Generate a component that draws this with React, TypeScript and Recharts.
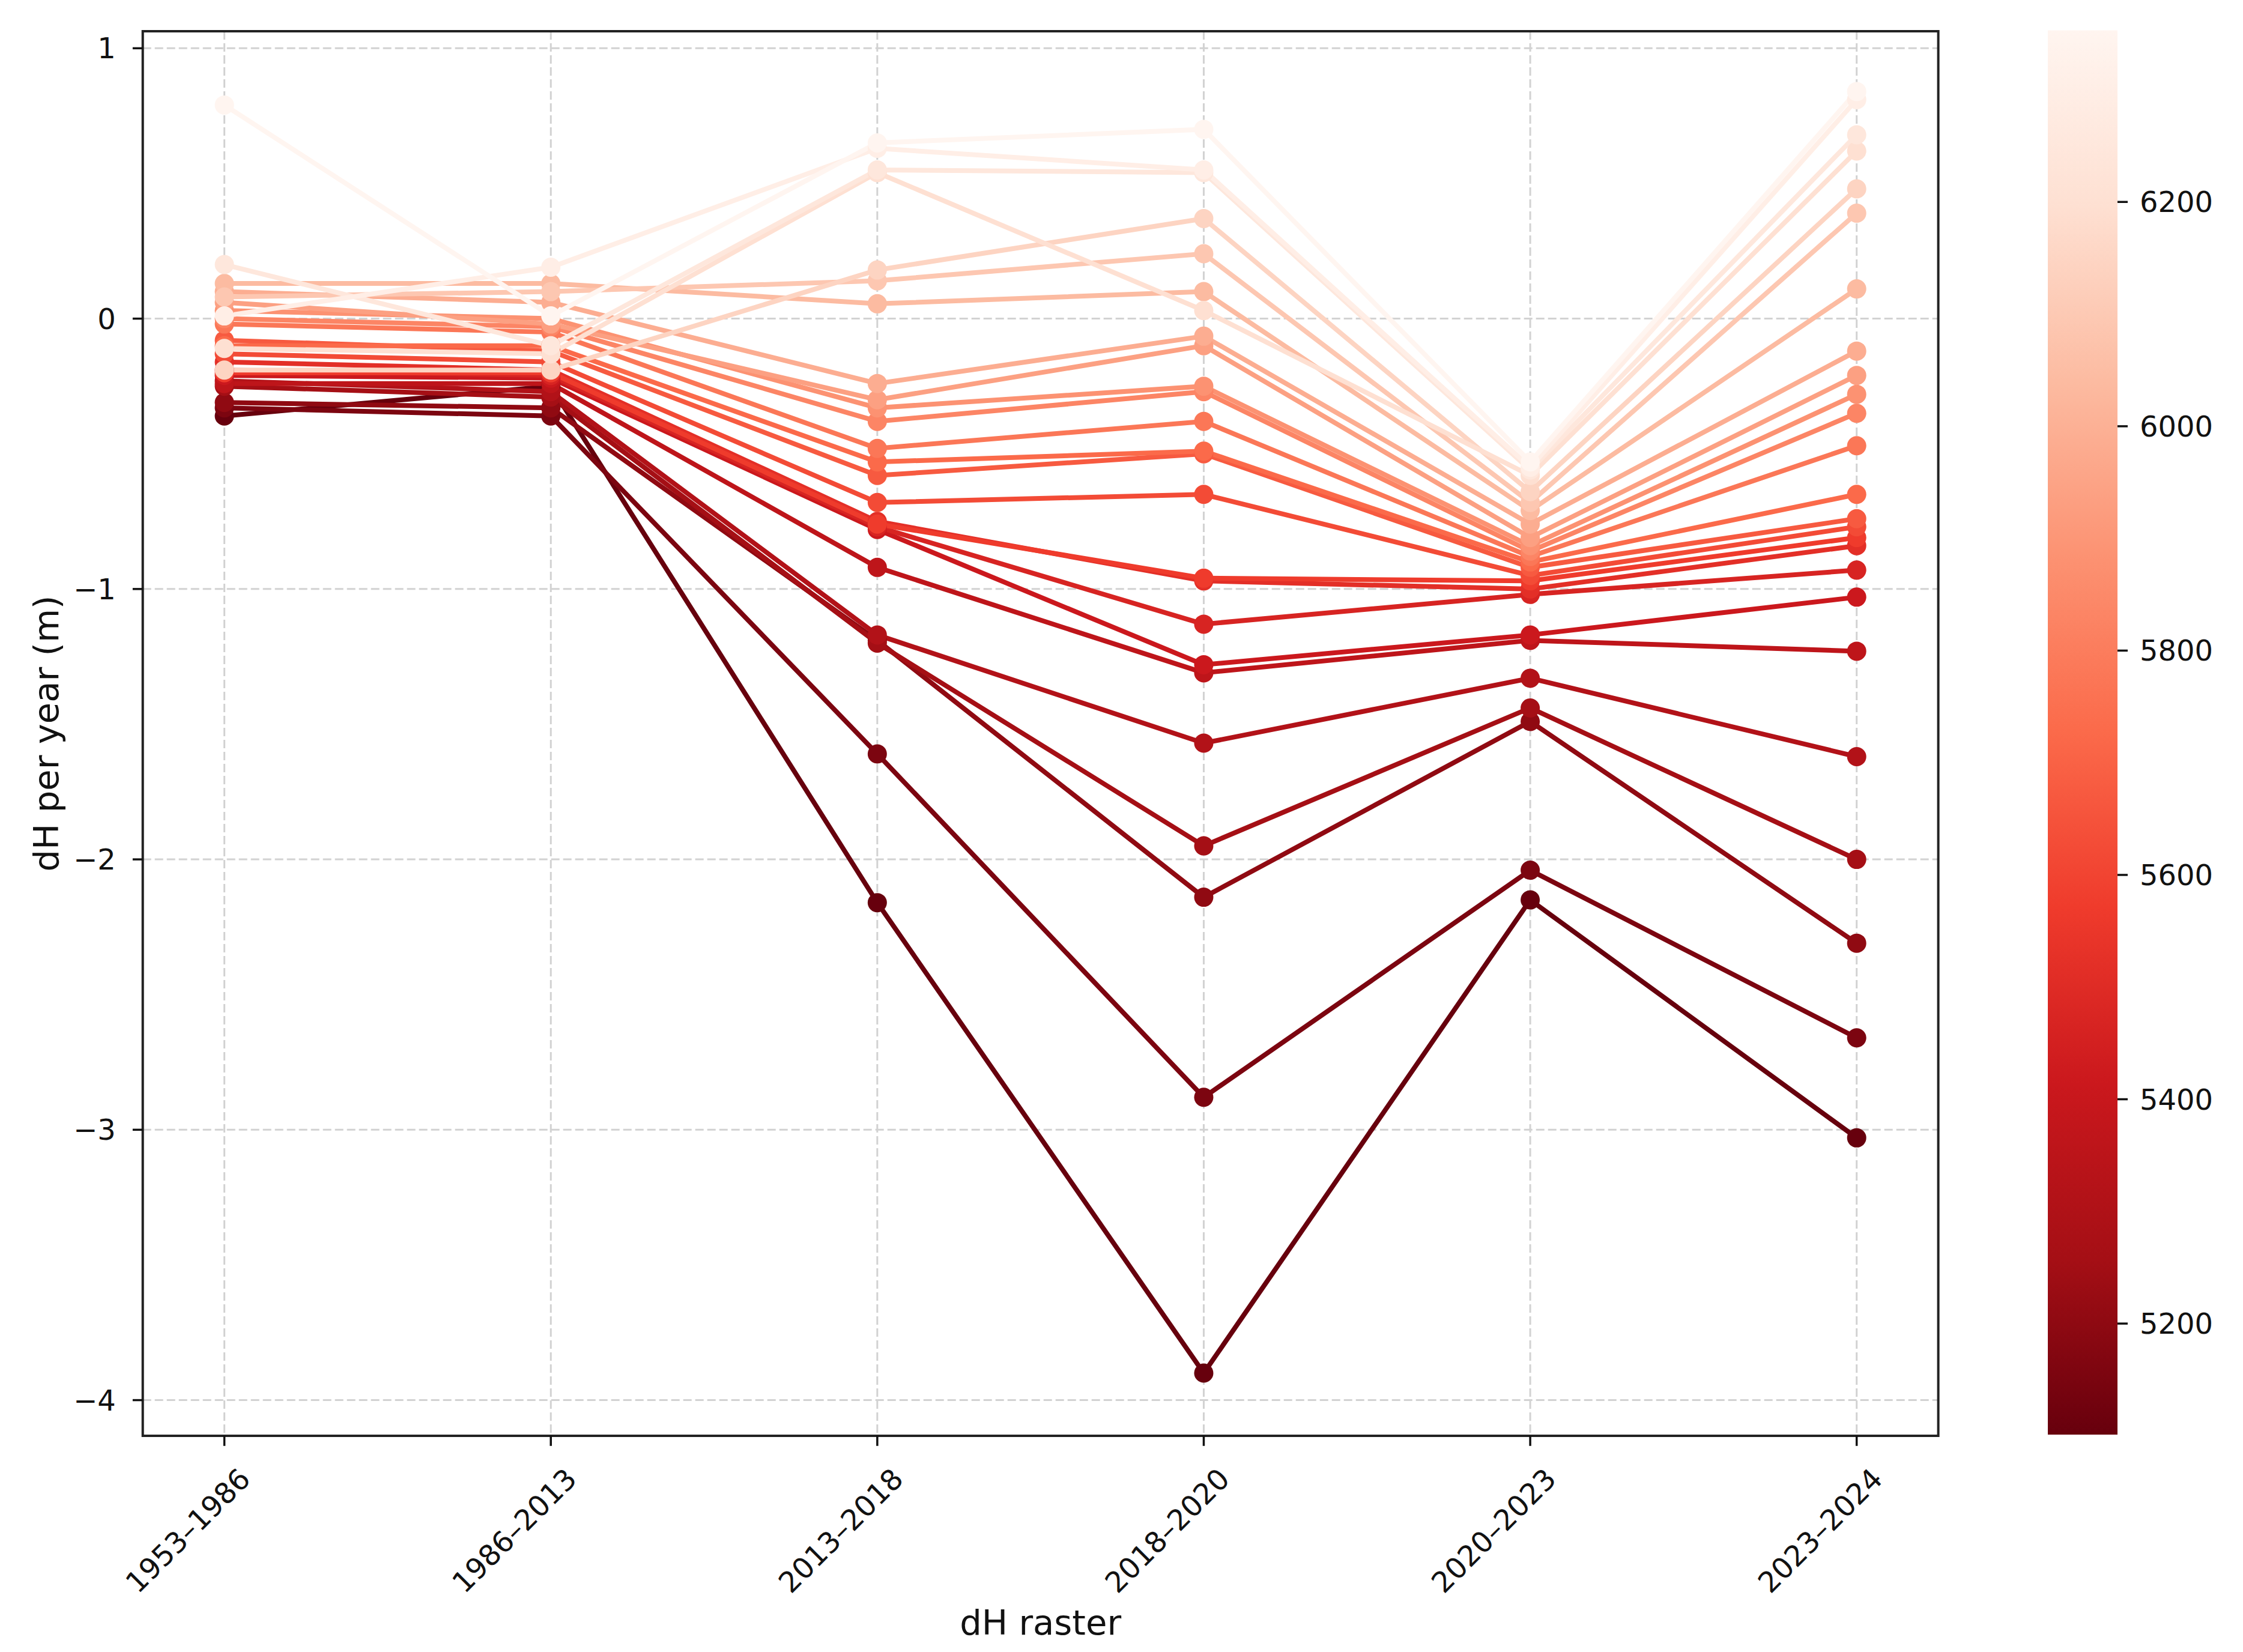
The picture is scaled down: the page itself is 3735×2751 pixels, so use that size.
import React from 'react';
import { LineChart, Line, XAxis, YAxis, CartesianGrid, ReferenceArea, ComposedChart } from 'recharts';

// elevation band of each line (m), lowest first
const elevations = [
  5101, 5153, 5205, 5257, 5310, 5362, 5414, 5466, 5518, 5570, 5623, 5675, 5727,
  5779, 5831, 5883, 5936, 5988, 6040, 6092, 6144, 6196, 6249, 6301, 6353,
];

const periods = ['1953–1986', '1986–2013', '2013–2018', '2018–2020', '2020–2023', '2023–2024'];

// dH per year (m) for every band, one array per period
const dh1953_1986 = [
  -0.36, -0.33, -0.31, -0.25, -0.23, -0.24, -0.21, -0.19, -0.16, -0.2, -0.13, -0.08, -0.1,
  -0.02, 0.0, 0.03, 0.06, 0.1, 0.13, 0.08, -0.19, -0.11, 0.2, 0.01, 0.79,
];
const dh1986_2013 = [
  -0.25, -0.36, -0.33, -0.29, -0.27, -0.24, -0.22, -0.21, -0.19, -0.2, -0.16, -0.12, -0.1,
  -0.05, -0.03, 0.0, -0.02, 0.06, 0.13, 0.1, -0.19, -0.13, -0.1, 0.19, 0.01,
];
const dh2013_2018 = [
  -2.16, -1.61, -1.19, -1.2, -1.17, -0.92, -0.78, -0.77, -0.75, -0.76, -0.68, -0.58, -0.53,
  -0.48, -0.38, -0.33, -0.3, -0.24, 0.055, 0.14, 0.18, 0.54, 0.55, 0.63, 0.65,
];
const dh2018_2020 = [
  -3.9, -2.88, -2.14, -1.95, -1.57, -1.31, -1.28, -1.13, -0.97, -0.96, -0.65, -0.5, -0.49,
  -0.38, -0.27, -0.25, -0.1, -0.065, 0.1, 0.24, 0.37, 0.03, 0.54, 0.55, 0.7,
];
const dh2020_2023 = [
  -2.15, -2.04, -1.49, -1.44, -1.33, -1.19, -1.17, -1.02, -1.0, -0.97, -0.95, -0.92, -0.9,
  -0.88, -0.86, -0.84, -0.81, -0.76, -0.71, -0.68, -0.64, -0.58, -0.56, -0.55, -0.53,
];
const dh2023_2024 = [
  -3.03, -2.66, -2.31, -2.0, -1.62, -1.23, -1.03, -0.93, -0.84, -0.81, -0.77, -0.74, -0.65,
  -0.47, -0.35, -0.28, -0.21, -0.12, 0.11, 0.39, 0.48, 0.62, 0.68, 0.81, 0.84,
];

const yTicks = [-4, -3, -2, -1, 0, 1];
const cbarTicks = [5200, 5400, 5600, 5800, 6000, 6200];

const ELEV_MIN = 5101;
const ELEV_MAX = 6353;
const FONT = 'DejaVu Sans';

// matplotlib "Reds" control colours
const REDS = ['#fff5f0', '#fee0d2', '#fcbba1', '#fc9272', '#fb6a4a', '#ef3b2c', '#cb181d', '#a50f15', '#67000d'];

const hexToRgb = (h: string) => [1, 3, 5].map((i) => parseInt(h.slice(i, i + 2), 16));

const reds = (s: number) => {
  const v = Math.max(0, Math.min(1, s)) * 8;
  const i = Math.min(7, Math.floor(v));
  const f = v - i;
  const a = hexToRgb(REDS[i]);
  const b = hexToRgb(REDS[i + 1]);
  const c = a.map((x, k) => Math.round(x + (b[k] - x) * f));
  return `rgb(${c[0]},${c[1]},${c[2]})`;
};

// low bands dark, high bands white (Reds_r)
const colorFor = (e: number) => reds(1 - (e - ELEV_MIN) / (ELEV_MAX - ELEV_MIN));

const columns = [dh1953_1986, dh1986_2013, dh2013_2018, dh2018_2020, dh2020_2023, dh2023_2024];

const rows = periods.map((p, i) => {
  const r: Record<string, number | string> = { idx: i, period: p };
  elevations.forEach((_, j) => {
    r[`b${j}`] = columns[i][j];
  });
  return r;
});

const cbarData = [{ x: 0 }, { x: 1 }];

const fmtY = (v: number) => (v < 0 ? `\u2212${Math.abs(v)}` : String(v));

const XTick = (props: any) => {
  const { x, y, payload } = props;
  const px = x + 46;
  const py = y + 56;
  return (
    <text
      x={px}
      y={py}
      textAnchor="end"
      transform={`rotate(-45, ${px}, ${py})`}
      fontSize={48}
      fill="#111"
      fontFamily={FONT}
    >
      {periods[payload.value]}
    </text>
  );
};

const YLabel = (props: any) => {
  const vb = props.viewBox || { x: 0, y: 52, width: 237.7, height: 2339 };
  const cx = 97;
  const cy = vb.y + vb.height / 2;
  return (
    <text
      x={cx}
      y={cy}
      transform={`rotate(-90, ${cx}, ${cy})`}
      textAnchor="middle"
      fontSize={57.6}
      fill="#111"
      fontFamily={FONT}
    >
      dH per year (m)
    </text>
  );
};

const XLabel = (props: any) => {
  const vb = props.viewBox || { x: 237.7, y: 2391, width: 2990, height: 360 };
  return (
    <text
      x={vb.x + vb.width / 2}
      y={vb.y + 331}
      textAnchor="middle"
      fontSize={57.6}
      fill="#111"
      fontFamily={FONT}
    >
      dH raster
    </text>
  );
};

const App = () => {
  return (
    <div
      style={{
        position: 'absolute',
        left: 0,
        top: 0,
        width: 3735,
        height: 2751,
        background: '#fff',
        fontFamily: FONT,
      }}
    >
      <div style={{ position: 'absolute', left: 0, top: 0 }}>
        <LineChart width={3300} height={2751} data={rows} margin={{ top: 52, right: 72.4, bottom: 0, left: 0 }}>
          <CartesianGrid stroke="#d2d2d2" strokeDasharray="14 6" strokeWidth={3} />
          <XAxis
            dataKey="idx"
            type="number"
            domain={[-0.25, 5.25]}
            ticks={[0, 1, 2, 3, 4, 5]}
            interval={0}
            allowDataOverflow
            height={360}
            axisLine={false}
            tickLine={{ stroke: '#111', strokeWidth: 3.5 }}
            tickSize={16.8}
            tick={<XTick />}
            label={{ content: <XLabel /> }}
          />
          <YAxis
            type="number"
            domain={[-4.132, 1.063]}
            ticks={yTicks}
            allowDataOverflow
            width={237.7}
            axisLine={false}
            tickLine={{ stroke: '#111', strokeWidth: 3.5 }}
            tickSize={16.8}
            tickMargin={28}
            tickFormatter={fmtY}
            tick={{ fontSize: 48, fill: '#111', fontFamily: FONT }}
            label={{ content: <YLabel /> }}
          />
          {elevations.map((e, j) => (
            <Line
              key={e}
              type="linear"
              dataKey={`b${j}`}
              stroke={colorFor(e)}
              strokeWidth={8}
              dot={{ r: 16, fill: colorFor(e), stroke: colorFor(e), strokeWidth: 0 }}
              activeDot={false}
              isAnimationActive={false}
            />
          ))}
          <ReferenceArea
            x1={-0.25}
            x2={5.25}
            y1={-4.132}
            y2={1.063}
            fill="none"
            fillOpacity={0}
            stroke="#222"
            strokeWidth={4}
            ifOverflow="visible"
          />
        </LineChart>
      </div>
      <div style={{ position: 'absolute', left: 3410, top: 0 }}>
        <ComposedChart width={325} height={2751} data={cbarData} margin={{ top: 50.5, right: 0, bottom: 362, left: 0 }}>
          <defs>
            <linearGradient id="cbarGrad" x1="0" y1="0" x2="0" y2="1">
              {REDS.map((c, i) => (
                <stop key={c} offset={`${(i / 8) * 100}%`} stopColor={c} />
              ))}
            </linearGradient>
          </defs>
          <XAxis type="number" dataKey="x" domain={[0, 1]} hide />
          <YAxis
            type="number"
            orientation="right"
            domain={[ELEV_MIN, ELEV_MAX]}
            ticks={cbarTicks}
            allowDataOverflow
            width={209}
            axisLine={false}
            tickLine={{ stroke: '#111', strokeWidth: 3.5 }}
            tickSize={17}
            tickMargin={20}
            tick={{ fontSize: 48, fill: '#111', fontFamily: FONT }}
          />
          <ReferenceArea
            x1={0}
            x2={1}
            y1={ELEV_MIN}
            y2={ELEV_MAX}
            fill="url(#cbarGrad)"
            fillOpacity={1}
            stroke="none"
            ifOverflow="visible"
          />
        </ComposedChart>
      </div>
    </div>
  );
};

export default App;
